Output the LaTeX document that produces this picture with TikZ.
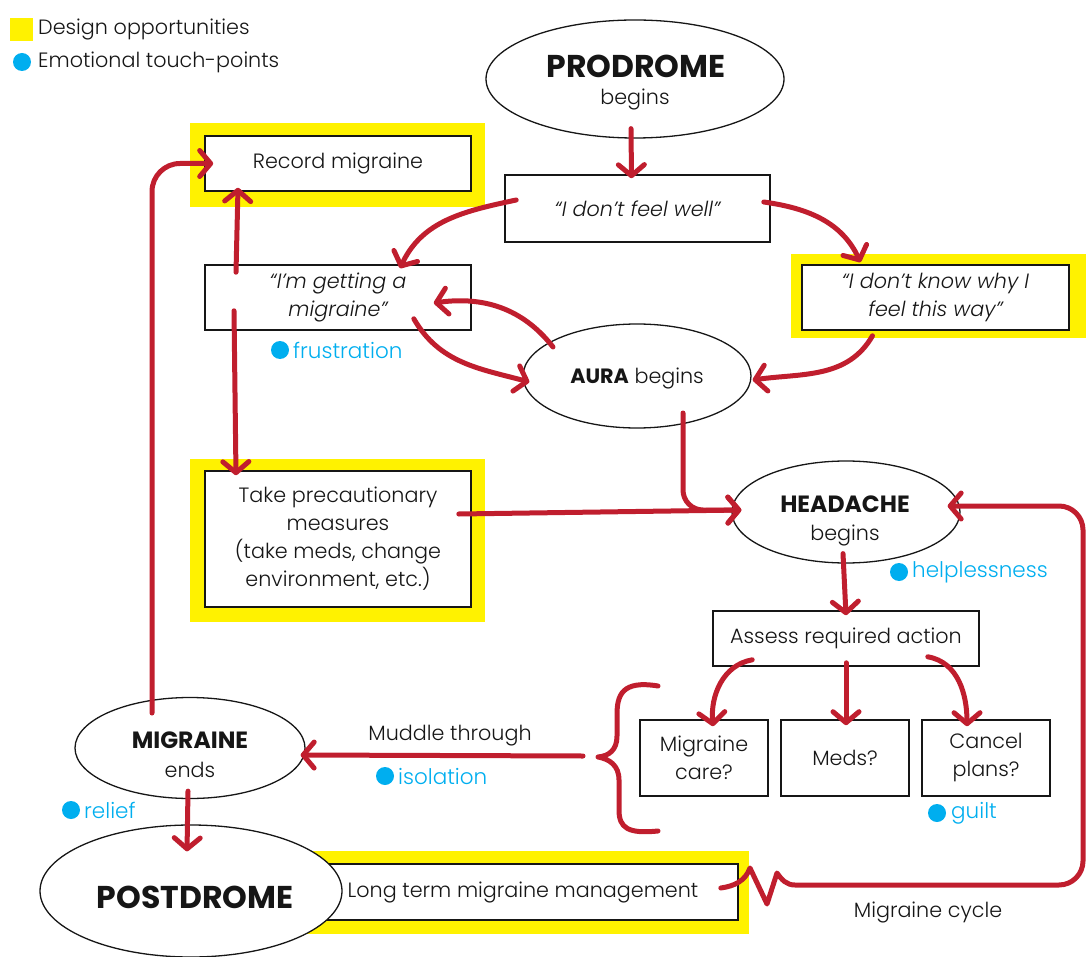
\documentclass[tikz,border=0pt]{standalone}
\usepackage{fontspec}
\setmainfont{Poppins Light}[BoldFont=Poppins Bold, ItalicFont=Poppins Light Italic, BoldItalicFont=Poppins Bold Italic]
\usetikzlibrary{arrows.meta,shapes.geometric,calc}

\definecolor{flowred}{RGB}{192,30,46}
\definecolor{hlyellow}{RGB}{255,242,0}
\definecolor{emoblue}{RGB}{0,174,239}
\definecolor{ink}{RGB}{22,22,22}

\newcommand\txt{\fontsize{20.7}{28}\selectfont}
\newcommand\emotxt{\fontsize{21.5}{28}\selectfont}
\newcommand\hdbig{\fontsize{31.5}{32}\selectfont\bfseries}
\newcommand\hdmid{\fontsize{23.5}{26}\selectfont\bfseries}

\tikzset{
  stepbox/.style={draw=ink, line width=1.6pt, fill=white, inner sep=0pt,
    align=center, font=\txt, text=ink},
  hl/.style={fill=hlyellow, draw=none},
  oval/.style={ellipse, draw=ink, line width=1.3pt, fill=white, inner sep=0pt},
  flow/.style={draw=flowred, line width=5pt, line cap=round, line join=round,
    -{Straight Barb[length=11pt,width=26pt,round]}},
  dot/.style={circle, fill=emoblue, inner sep=0pt, minimum size=18pt},
  emo/.style={text=emoblue, font=\emotxt, anchor=west, inner sep=0pt},
  plain/.style={font=\txt, text=ink, inner sep=0pt},
  caption/.style={text=ink, inner sep=0pt, anchor=base},
}

\begin{document}
\begin{tikzpicture}[x=1pt, y=1pt]
\useasboundingbox (0,0) rectangle (1086,-957);

% legend
\path[hl] (10,-18) rectangle (33,-41);
\node[plain, anchor=west] (legA) at (38,-29) {Design opportunities};
\node[dot] (legdot) at (22,-62) {};
\node[plain, anchor=west] (legB) at (38,-62) {Emotional touch-points};

% yellow design-opportunity highlights
\path[hl] (190,-123) rectangle (485,-207);
\path[hl] (791,-254) rectangle (1086,-338);
\path[hl] (190,-459) rectangle (485,-622);
\path[hl] (290,-851) rectangle (749,-934);

% boxes
\node[stepbox, minimum width=266pt, minimum height=55pt] (rec) at (338,-163.5) {Record migraine};
\node[stepbox, minimum width=265pt, minimum height=67pt] (dfw) at (637.5,-208.5) {\itshape “I don’t feel well”};
\node[stepbox, minimum width=266pt, minimum height=65pt] (img) at (338,-297.5) {\itshape “I’m getting a\\\itshape migraine”};
\node[stepbox, minimum width=267pt, minimum height=65pt] (dk) at (935.5,-297.5) {\itshape “I don’t know why I\\\itshape feel this way”};
\node[stepbox, minimum width=266pt, minimum height=136pt] (prec) at (338,-539) {Take precautionary\\measures\\(take meds, change\\environment, etc.)};
\node[stepbox, minimum width=266pt, minimum height=55pt] (assess) at (846,-638.5) {Assess required action};
\node[stepbox, minimum width=128pt, minimum height=76pt] (mc) at (704,-758) {Migraine\\care?};
\node[stepbox, minimum width=128pt, minimum height=76pt] (meds) at (845,-758) {Meds?};
\node[stepbox, minimum width=128pt, minimum height=76pt] (cancel) at (986,-758) {Cancel\\plans?};
\node[stepbox, minimum width=448pt, minimum height=56pt] (ltm) at (514,-892) {\hspace*{18pt}Long term migraine management};

% ellipses
\node[oval, minimum width=298pt, minimum height=118pt] (prod) at (635,-79) {};
\node[caption, font=\hdbig] (prodA) at (636,-78) {PRODROME};
\node[caption, font=\txt] (prodB) at (635,-105) {begins};

\node[oval, minimum width=228pt, minimum height=104pt] (aura) at (637,-376) {};
\node[caption, font=\txt] (auraA) at (637,-383) {\textbf{AURA} begins};

\node[oval, minimum width=228pt, minimum height=102pt] (head) at (846,-512) {};
\node[caption, font=\hdmid] (headA) at (845,-512) {HEADACHE};
\node[caption, font=\txt] (headB) at (845,-540) {begins};

\node[oval, minimum width=230pt, minimum height=101pt] (mig) at (190,-748) {};
\node[caption, font=\hdmid] (migA) at (190,-748) {MIGRAINE};
\node[caption, font=\txt] (migB) at (190,-777) {ends};

\node[oval, minimum width=302pt, minimum height=132pt] (post) at (191,-891) {};
\node[caption, font=\hdbig] (postA) at (195,-908) {POSTDROME};

% emotional touch-points
\node[dot] (d1) at (280,-350) {};
\node[emo] (e1) at (293,-350) {frustration};
\node[dot] (d2) at (899,-572) {};
\node[emo] (e2) at (912,-572) {helplessness};
\node[dot] (d3) at (385,-776) {};
\node[emo] (e3) at (398,-776) {isolation};
\node[dot] (d4) at (71,-810) {};
\node[emo] (e4) at (84,-810) {relief};
\node[dot] (d5) at (937,-813) {};
\node[emo] (e5) at (951,-813) {guilt};

% other captions
\node[plain] (muddle) at (450,-736) {Muddle through};
\node[plain] (cycle) at (928,-912) {Migraine cycle};

% curly brace gathering the three options
\coordinate (bracetip) at (598,-757);
\coordinate (muddlestart) at (583,-756);
\draw[flowred, line width=5pt, line cap=round, line join=round]
  (658,-686) .. controls (622,-680) and (617,-695) .. (617,-715)
  -- (617,-736) .. controls (617,-750) and (609,-756) .. (bracetip)
  .. controls (609,-759) and (619,-765) .. (619,-780)
  -- (619,-810) .. controls (619,-828) and (628,-834) .. (658,-831);

% connectors
\draw[flow] ([xshift=-4pt,yshift=10pt]prod.south) -- ([xshift=-6pt,yshift=-4pt]dfw.north);
\draw[flow] ([xshift=12pt,yshift=8.5pt]dfw.west) to[out=192,in=65] ([xshift=62pt,yshift=-4pt]img.north);
\draw[flow] ([xshift=-7pt,yshift=6.5pt]dfw.east) to[out=-8,in=115] ([xshift=-75pt,yshift=2pt]dk.north);
\draw[flow] ([xshift=-102pt,yshift=-8pt]img.north) -- ([xshift=-100pt,yshift=4pt]rec.south);
\draw[flow] ([xshift=-104pt,yshift=20pt]img.south) -- ([xshift=-102pt,yshift=-5pt]prec.north);
\draw[flow] ([shift={(-84pt,29pt)}]aura.center) to[out=128,in=8] ([xshift=-38pt,yshift=-5.5pt]img.east);
\draw[flow] ([shift={(-58pt,12pt)}]img.south east) to[out=-60,in=165] ([xshift=7pt,yshift=-6pt]aura.west);
\draw[flow] ([xshift=-63pt,yshift=-5pt]dk.south) to[out=-120,in=8] ([xshift=1pt,yshift=-4pt]aura.east);
\draw[flow, rounded corners=20pt] ([shift={(46pt,-37pt)}]aura.center) |- ([xshift=10pt,yshift=2pt]head.west);
\draw[flow] ([xshift=-13pt,yshift=25pt]prec.east) -- ([xshift=10pt,yshift=2pt]head.west);
\draw[flow] ([xshift=-3pt,yshift=10pt]head.south) -- ([yshift=-5pt]assess.north);
\draw[flow] ([shift={(40pt,7pt)}]assess.south west) to[out=190,in=95] ([xshift=9pt,yshift=-7pt]mc.north);
\draw[flow] ([yshift=4pt]assess.south) -- ([xshift=1pt,yshift=-6pt]meds.north);
\draw[flow] ([shift={(-52pt,10pt)}]assess.south east) to[out=-10,in=90] ([xshift=-19pt,yshift=-7pt]cancel.north);
\draw[flow] (muddlestart) -- ([xshift=-5pt,yshift=-7pt]mig.east);
\draw[flow, rounded corners=28pt] ([shift={(-38pt,35pt)}]mig.center) |- ([xshift=9pt]rec.west);
\draw[flow] ([xshift=-2pt,yshift=8pt]mig.south) -- ([xshift=-4pt,yshift=-27pt]post.north);
\draw[flow] ([xshift=-18pt,yshift=4pt]ltm.east)
  to[out=8,in=250] (750,-868) -- (767,-904) -- (777,-873) to[out=-55,in=180] (795,-885)
  [rounded corners=24pt] -- (1083,-885) |- ([xshift=-13pt,yshift=6pt]head.east);
\end{tikzpicture}
\end{document}
